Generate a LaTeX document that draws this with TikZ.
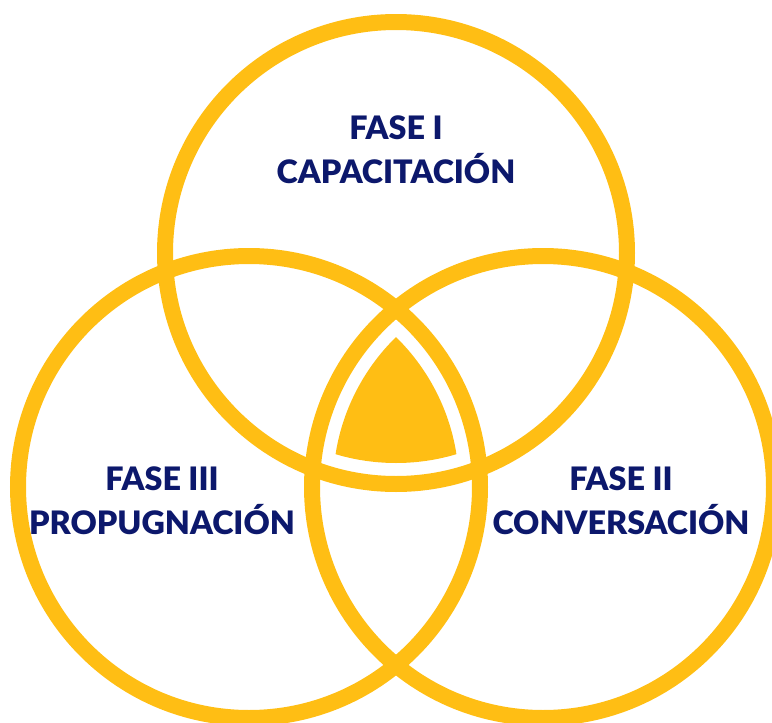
\documentclass[tikz,border=0pt]{standalone}
\usepackage{fontspec}
\setmainfont{Lato}[BoldFont={Lato Black}]
\usepackage{tikz}

\definecolor{faseyellow}{RGB}{255,190,20}
\definecolor{fasenavy}{RGB}{12,24,108}

\tikzset{
  ring/.style={draw=faseyellow, line width=16pt},
  fase/.style={text=fasenavy, align=center, inner sep=0pt,
    font=\fontsize{32.3}{44}\selectfont\bfseries}
}

\begin{document}
\begin{tikzpicture}[x=1pt,y=-1pt]
\useasboundingbox (0,0) rectangle (772,723);
\coordinate (ctop) at (396,253);
\coordinate (cleft) at (249,487);
\coordinate (cright) at (543,487);
% the three rings
\foreach \c in {ctop,cleft,cright}
\draw[ring] (\c) circle (231);
% centre piece
\begin{scope}
\clip (ctop) circle (210);
\clip (cleft) circle (210);
\fill[faseyellow] (cright) circle (210);
\end{scope}
\node[fase] (capacitacion) at (396,150) {FASE I\\CAPACITACIÓN};
\node[fase] (propugnacion) at (162,500.5) {FASE III\\PROPUGNACIÓN};
\node[fase] (conversacion) at (621,500.5) {FASE II\\CONVERSACIÓN};
\end{tikzpicture}
\end{document}
